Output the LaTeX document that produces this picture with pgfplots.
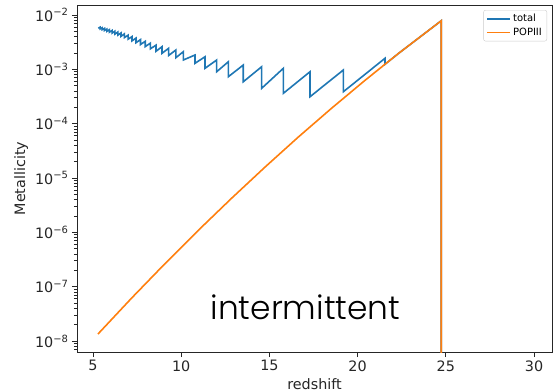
\documentclass[border=0pt]{standalone}
\usepackage{fontspec}
\setmainfont{DejaVu Sans}
\newfontfamily\annfont{Poppins}[UprightFont={* Light}]
\usepackage{pgfplots}
\pgfplotsset{compat=1.18}
\definecolor{tabblue}{HTML}{1F77B4}
\definecolor{taborange}{HTML}{FF7F0E}
\begin{document}
\begin{tikzpicture}[x=1bp,y=1bp]
\begin{axis}[
  at={(77bp,40bp)}, anchor=south west,
  width=475bp, height=347bp, scale only axis,
  xmin=4.093, xmax=31.02,
  ymode=log, ymin=6.31e-9, ymax=1.528e-2,
  xtick={5,10,15,20,25,30}, xticklabels={5,10,15,20,25,30},
  ytick={1e-8,1e-7,1e-6,1e-5,1e-4,1e-3,1e-2},
  yticklabels={10\textsuperscript{−8},10\textsuperscript{−7},10\textsuperscript{−6},10\textsuperscript{−5},10\textsuperscript{−4},10\textsuperscript{−3},10\textsuperscript{−2}},
  minor ytick={7e-9,8e-9,9e-9,
    2e-8,3e-8,4e-8,5e-8,6e-8,7e-8,8e-8,9e-8,
    2e-7,3e-7,4e-7,5e-7,6e-7,7e-7,8e-7,9e-7,
    2e-6,3e-6,4e-6,5e-6,6e-6,7e-6,8e-6,9e-6,
    2e-5,3e-5,4e-5,5e-5,6e-5,7e-5,8e-5,9e-5,
    2e-4,3e-4,4e-4,5e-4,6e-4,7e-4,8e-4,9e-4,
    2e-3,3e-3,4e-3,5e-3,6e-3,7e-3,8e-3,9e-3},
  tick align=outside, tick pos=left,
  major tick length=5bp, minor tick length=3bp,
  every tick/.style={black!85, line width=0.9bp},
  axis line style={black!85, line width=0.9bp},
  ticklabel style={font=\fontsize{14.4}{17}\selectfont, text=black!85},
  label style={font=\fontsize{14.4}{17}\selectfont, text=black!85},
  xlabel={redshift}, ylabel={Metallicity},
  legend style={at={(axis description cs:0.9895,0.9856)}, anchor=north east,
    font=\fontsize{10}{12}\selectfont, draw=black!20, rounded corners=2bp,
    fill=white, fill opacity=0.8, text opacity=1, row sep=1bp},
  legend cell align=left,
  legend image code/.code={\draw[#1] (0bp,0bp) -- (23bp,0bp);},
]
\addplot[color=tabblue, line width=1.6bp] coordinates {
(5.30,5.715e-3) (5.40,5.970e-3) (5.40,5.534e-3) (5.52,5.834e-3) (5.52,5.370e-3)
(5.65,5.676e-3) (5.65,5.188e-3) (5.79,5.521e-3) (5.79,5.012e-3) (5.93,5.370e-3)
(5.93,4.831e-3) (6.08,5.200e-3) (6.08,4.635e-3) (6.24,5.035e-3) (6.24,4.446e-3)
(6.41,4.864e-3) (6.41,4.256e-3) (6.59,4.688e-3) (6.59,4.055e-3) (6.78,4.498e-3)
(6.78,3.846e-3) (6.99,4.256e-3) (6.99,3.597e-3) (7.21,4.009e-3) (7.21,3.342e-3)
(7.44,3.767e-3) (7.44,3.097e-3) (7.69,3.524e-3) (7.69,2.858e-3) (7.96,3.281e-3)
(7.96,2.618e-3) (8.25,3.034e-3) (8.25,2.382e-3) (8.57,2.786e-3) (8.57,2.148e-3)
(8.91,2.612e-3) (8.91,1.972e-3) (9.29,2.443e-3) (9.29,1.803e-3) (9.70,2.275e-3)
(9.70,1.641e-3) (10.12,2.114e-3) (10.12,1.486e-3) (10.78,1.837e-3) (10.78,1.291e-3)
(11.35,1.706e-3) (11.35,1.045e-3) (12.01,1.486e-3) (12.01,9.036e-4) (12.67,1.380e-3)
(12.67,7.311e-4) (13.52,1.202e-3) (13.52,5.916e-4) (14.56,1.117e-3) (14.56,4.477e-4)
(15.79,1.045e-3) (15.79,3.623e-4) (17.30,9.036e-4) (17.30,3.133e-4) (19.19,9.727e-4)
(19.19,3.873e-4) (21.55,1.596e-3) (21.55,1.239e-3) (22.309,1.954e-3) (24.671,7.533e-3)
(24.74,7.834e-3) (24.74,1e-12)
};
\addlegendentry{total}
\addplot[color=taborange, line width=1.6bp] coordinates {
(5.28,1.349e-8) (7.192,6.209e-8) (9.082,2.667e-7) (10.971,1.094e-6) (12.861,4.266e-6)
(14.751,1.592e-5) (16.640,5.689e-5) (18.530,1.932e-4) (20.420,6.281e-4) (21.55,1.239e-3)
(22.309,1.954e-3) (24.671,7.533e-3) (24.74,7.834e-3) (24.74,1e-12)
};
\addlegendentry{POPIII}
\end{axis}
\node[anchor=base, font=\annfont\fontsize{33}{39}\selectfont] at (305.5bp,72bp) {intermittent};
\pgfresetboundingbox
\path[use as bounding box] (0,0) rectangle (560bp,392bp);
\end{tikzpicture}
\end{document}
